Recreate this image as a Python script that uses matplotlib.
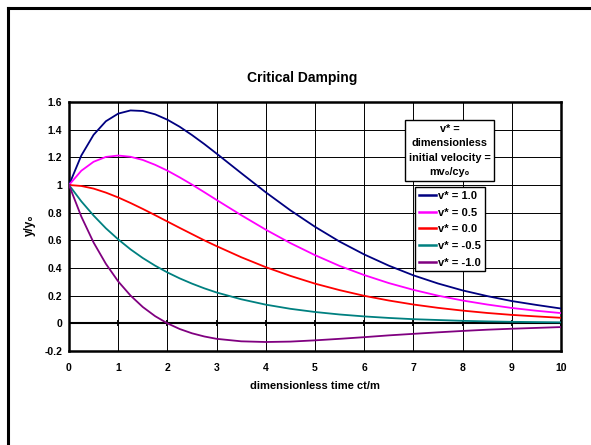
import matplotlib
matplotlib.use("Agg")
import matplotlib.pyplot as plt
from matplotlib.lines import Line2D

# ---- data ----
t = [0, 0.25, 0.5, 0.75, 1, 1.25, 1.5, 1.75, 2, 2.25, 2.5, 2.75, 3,
     3.5, 4, 4.5, 5, 5.5, 6, 6.5, 7, 7.5, 8, 8.5, 9, 9.5, 10]
v_p10 = [1, 1.213, 1.363, 1.461, 1.516, 1.539, 1.535, 1.511, 1.472, 1.421, 1.361, 1.296, 1.227,
         1.086, 0.947, 0.817, 0.698, 0.591, 0.498, 0.417, 0.347, 0.288, 0.238, 0.197, 0.161, 0.133, 0.107]
v_p05 = [1, 1.103, 1.168, 1.203, 1.213, 1.204, 1.181, 1.146, 1.104, 1.055, 1.003, 0.948, 0.892,
         0.782, 0.677, 0.580, 0.493, 0.415, 0.349, 0.291, 0.242, 0.200, 0.165, 0.136, 0.111, 0.091, 0.074]
v_00 = [1, 0.993, 0.974, 0.945, 0.910, 0.870, 0.827, 0.782, 0.736, 0.690, 0.645, 0.600, 0.558,
        0.478, 0.406, 0.343, 0.287, 0.240, 0.199, 0.165, 0.136, 0.112, 0.092, 0.075, 0.061, 0.050, 0.040]
v_m05 = [1, 0.882, 0.779, 0.687, 0.607, 0.535, 0.472, 0.417, 0.368, 0.325, 0.287, 0.253, 0.223,
         0.174, 0.135, 0.105, 0.082, 0.064, 0.050, 0.039, 0.030, 0.024, 0.018, 0.014, 0.011, 0.009, 0.007]
v_m10 = [1, 0.772, 0.584, 0.430, 0.303, 0.201, 0.118, 0.052, 0, -0.041, -0.072, -0.095, -0.112,
         -0.130, -0.135, -0.132, -0.123, -0.112, -0.100, -0.087, -0.076, -0.065, -0.055, -0.046, -0.039, -0.033, -0.027]

series = [v_p10, v_p05, v_00, v_m05, v_m10]
labels = ["v* = 1.0", "v* = 0.5", "v* = 0.0", "v* = -0.5", "v* = -1.0"]
colors = ["#000080", "#FF00FF", "#FF0000", "#008080", "#800080"]

xticks = list(range(0, 11))
yticks = [-0.2, 0, 0.2, 0.4, 0.6, 0.8, 1, 1.2, 1.4, 1.6]
yticklabels = ["-0.2", "0", "0.2", "0.4", "0.6", "0.8", "1", "1.2", "1.4", "1.6"]

FAM = ["Liberation Sans", "DejaVu Sans"]
plt.rcParams["font.family"] = FAM
plt.rcParams["font.weight"] = "bold"

fig = plt.figure(figsize=(5.91, 4.45), dpi=100)
W, H = 591, 445
ax = fig.add_axes([69 / W, 1 - 351 / H, (561 - 69) / W, (351 - 102) / H])

for ys, lab, c in zip(series, labels, colors):
    ax.plot(t, ys, color=c, lw=1.3, label=lab, zorder=3)

ax.set_xlim(0, 10)
ax.set_ylim(-0.2, 1.6)
ax.set_xticks(xticks)
ax.set_yticks(yticks)
ax.set_yticklabels(yticklabels)
ax.grid(True, color="black", lw=0.7)
ax.tick_params(axis="both", length=0, labelsize=7.5)
ax.tick_params(axis="x", pad=8.5)
ax.tick_params(axis="y", pad=5)
for lbl in ax.get_xticklabels() + ax.get_yticklabels():
    lbl.set_fontweight("bold")
for s in ax.spines.values():
    s.set_linewidth(1.8)
    s.set_color("black")

# zero axis line with tick marks
ax.axhline(0, color="black", lw=1.5, zorder=2)
ax.plot(xticks, [0] * len(xticks), ls="none", marker="|", color="black",
        markersize=5, markeredgewidth=1.3, zorder=2)

fig.text(302 / W, 1 - 78 / H, "Critical Damping", ha="center", va="center",
         fontsize=10, fontweight="bold")
fig.text(315 / W, 1 - 386 / H, "dimensionless time ct/m", ha="center", va="center",
         fontsize=8, fontweight="bold")
fig.text(30 / W, 1 - 225 / H, "y/y\u2080", ha="center", va="center", rotation=90,
         fontsize=8.5, fontweight="bold")

fig.text(449.5 / W, 1 - 150.5 / H, "v* =\ndimensionless\ninitial velocity =\nmv\u2080/cy\u2080",
         ha="center", va="center", multialignment="center", fontsize=7.8, fontweight="bold",
         linespacing=1.55,
         bbox=dict(boxstyle="square,pad=0.35", facecolor="white", edgecolor="black", lw=1.0))

leg = ax.legend(loc="upper left", bbox_to_anchor=(415 / W, 1 - 187 / H),
                bbox_transform=fig.transFigure, borderaxespad=0, fancybox=False,
                framealpha=1, edgecolor="black", prop=dict(size=8, weight="bold"),
                handlelength=1.5, handletextpad=0.2, labelspacing=0.6, borderpad=0.35)
leg.get_frame().set_linewidth(1.0)
for ln in leg.get_lines():
    ln.set_linewidth(1.8)

# outer frame (left & top borders)
fig.add_artist(Line2D([8 / W, 8 / W], [0, 1 - 8 / H], transform=fig.transFigure,
                      color="black", lw=2.2))
fig.add_artist(Line2D([8 / W, 1], [1 - 8 / H, 1 - 8 / H], transform=fig.transFigure,
                      color="black", lw=2.2))

fig.savefig("out.png", dpi=100)
